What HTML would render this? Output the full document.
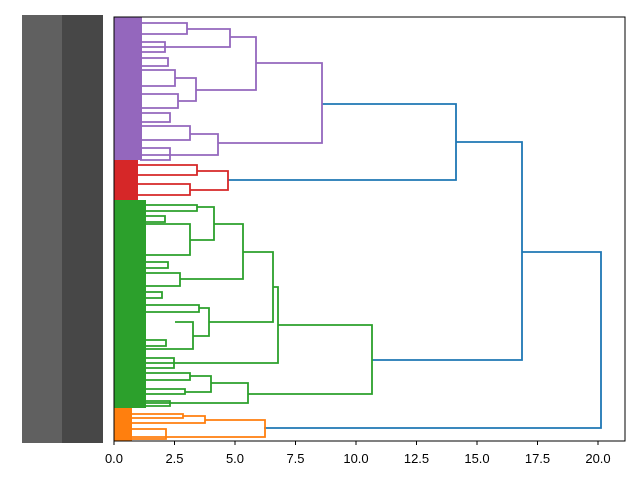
<!DOCTYPE html>
<html><head><meta charset="utf-8"><style>
html,body{margin:0;padding:0;background:#fff;width:640px;height:480px;overflow:hidden}
svg text{font-family:"Liberation Sans","DejaVu Sans",sans-serif}
</style></head><body>
<svg id="s" width="640" height="480" viewBox="0 0 640 480" xmlns="http://www.w3.org/2000/svg">
<rect x="22" y="15" width="81" height="428" fill="#606060"/>
<rect x="62" y="15" width="41" height="428" fill="#474747"/>
<rect x="114" y="17" width="28" height="143" fill="#9467bd"/>
<rect x="114" y="160" width="24" height="40" fill="#d62728"/>
<rect x="114" y="200" width="32" height="208" fill="#2ca02c"/>
<rect x="114" y="408" width="18" height="33" fill="#ff7f0e"/>
<g id="g" fill="none" stroke-width="1.8"></g>
<rect x="114" y="17" width="511" height="424" fill="none" stroke="#000" stroke-width="1"/>
<g id="t" font-size="13" text-anchor="middle" fill="#000"></g>
</svg>
<script>
var g=document.getElementById('g'),t=document.getElementById('t');
var P='#9467bd',R='#d62728',G='#2ca02c',O='#ff7f0e',B='#1f77b4';
var E={};E[P]=140;E[R]=136;E[G]=144;E[O]=130;E[B]=0;
function L(x,ya,yb,xa,xb,c){var p=document.createElementNS('http://www.w3.org/2000/svg','path');
if(c!=B){if(xa<175)xa=E[c];if(xb<175)xb=E[c];}
p.setAttribute('d','M'+xa+' '+ya+'H'+x+'V'+yb+'H'+xb);p.setAttribute('stroke',c);g.appendChild(p);}
// blue
L(601,252,428,522,264,B);L(522,142,360,456,372,B);L(456,104,180,322,228,B);
// purple
L(322,63,143,256,218,P);L(256,37,90,230,196,P);L(230,29,47,187,160,P);L(187,23,34,160,158,P);
L(196,78,101,175,178,P);L(175,70,86,160,158,P);L(178,94,108,160,162,P);
L(218,134,155,190,170,P);L(190,126,140,160,158,P);L(170,148,160,152,150,P);
L(165,42,52,150,150,P);L(168,58,66,152,150,P);L(170,113,122,152,150,P);
// red
L(228,171,190,197,190,R);L(197,165,175,165,160,R);L(190,184,195,170,160,R);
// green
L(372,325,394,278,248,G);L(278,287,363,273,174,G);L(273,252,322,243,209,G);
L(243,224,279,214,180,G);L(214,207,240,197,190,G);L(197,205,211,165,160,G);
L(190,224,255,170,165,G);L(180,273,286,160,158,G);L(209,308,336,199,193,G);
L(199,305,312,170,165,G);L(193,322,349,175,165,G);L(174,358,368,150,150,G);
L(248,383,403,211,170,G);L(211,376,392,190,185,G);L(190,373,380,160,155,G);
L(185,389,394,160,155,G);L(170,401,406,155,150,G);
L(165,216,222,150,150,G);L(168,262,268,152,150,G);L(162,292,298,150,150,G);L(166,340,346,150,150,G);
// orange
L(265,420,437,205,166,O);L(205,416,423,183,150,O);L(183,414,418,160,155,O);L(166,429,439,145,140,O);
for(var i=0;i<=8;i++){var v=i*2.5,x=114+v*24.2;
var l=document.createElementNS('http://www.w3.org/2000/svg','line');l.setAttribute('x1',x);l.setAttribute('x2',x);l.setAttribute('y1',441);l.setAttribute('y2',445);l.setAttribute('stroke','#000');document.getElementById('s').appendChild(l);
var tx=document.createElementNS('http://www.w3.org/2000/svg','text');tx.setAttribute('x',x);tx.setAttribute('y',463);tx.textContent=v.toFixed(1);t.appendChild(tx);}
</script>
</body></html>
